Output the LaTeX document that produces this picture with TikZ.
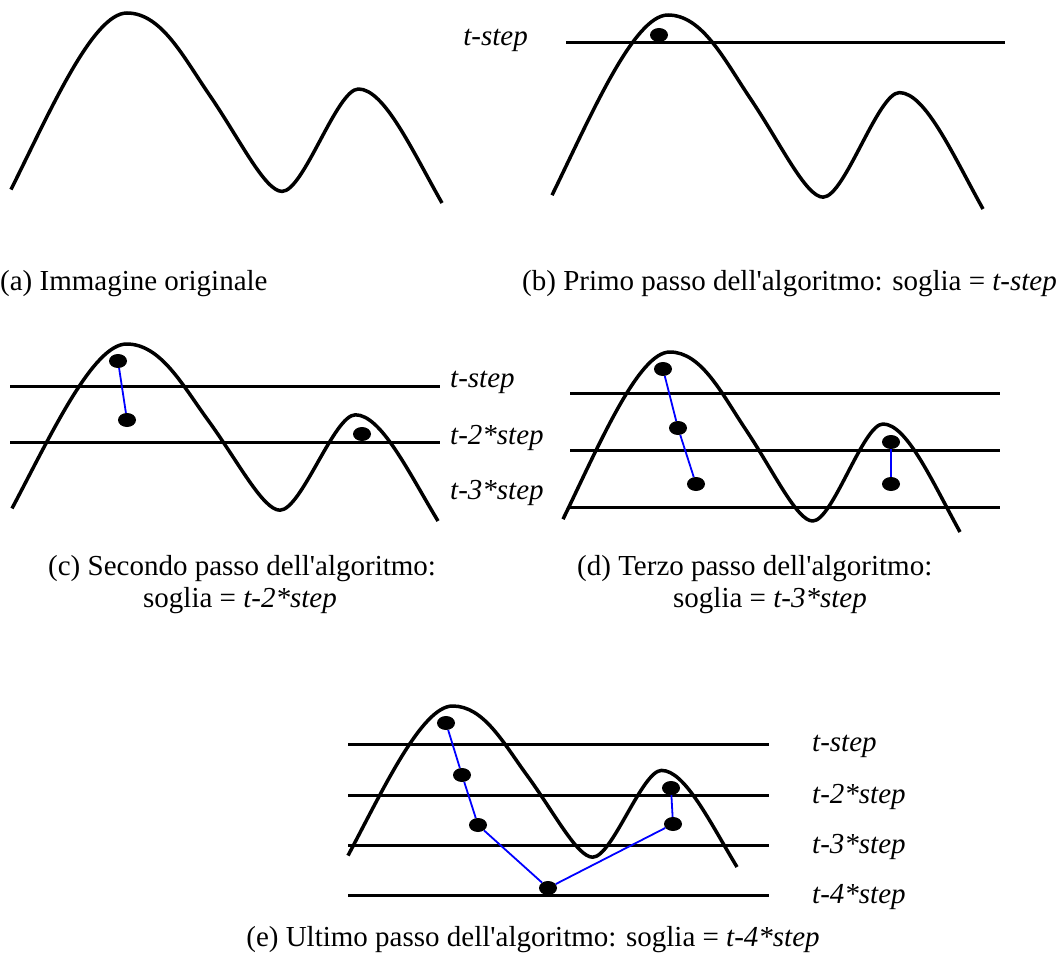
\documentclass[tikz,border=0pt]{standalone}
\usepackage{fontspec}
\setmainfont{Liberation Serif}
\usetikzlibrary{shapes.geometric}

% the profile, drawn in a unit box (peak at top, right end at bottom)
\newcommand{\wave}{%
    \draw[curve] (0,0.929) .. controls (0.09,0.52) and (0.19,0) .. (0.269,0)
        .. controls (0.349,0) and (0.40,0.232) .. (0.46,0.43)
        .. controls (0.53,0.661) and (0.589,0.939) .. (0.629,0.939)
        .. controls (0.679,0.939) and (0.756,0.4) .. (0.806,0.4)
        .. controls (0.866,0.4) and (0.93,0.72) .. (1,1);}

\begin{document}
\begin{tikzpicture}[x=1pt, y=-1pt,
            curve/.style={color=black, line width=3.5pt, line join=round},
            level/.style={color=black, line width=3pt},
            dot/.style={ellipse, fill=black, inner sep=0pt, minimum width=18pt, minimum height=14pt},
            trail/.style={color=blue, line width=1.8pt},
            steplabel/.style={inner sep=0pt, font=\fontsize{29}{34}\selectfont\itshape},
            caption/.style={inner sep=0pt, font=\fontsize{29}{34}\selectfont}
        ]
            \useasboundingbox (0,0) rectangle (1063,955);

            % (a) original image
            \begin{scope}[shift={(11,13)}, xscale=431, yscale=190]
                \wave
            \end{scope}
            \node[caption, anchor=west] (capa) at (0,284) {(a) Immagine originale};

            % (b) first step
            \begin{scope}[shift={(552,15)}, xscale=431, yscale=194]
                \wave
            \end{scope}
            \draw[level] (566,43) -- (1005,43);
            \node[steplabel, anchor=east] (lb1) at (528,40) {t-step};
            \node[dot] (b1) at (659,35) {};
            \node[caption, anchor=west] (capb) at (522,284) {(b) Primo passo dell\textquotesingle algoritmo: soglia = \textit{t-step}};

            % (c) second step
            \begin{scope}[shift={(12,344)}, xscale=426, yscale=177]
                \wave
            \end{scope}
            \foreach \y in {386, 442}{
                \draw[level] (10,\y) -- (440,\y);
            }
            \node[steplabel, anchor=west] (lc1) at (450,382) {t-step};
            \node[steplabel, anchor=west] (lc2) at (450,438) {t-2*step};
            \node[steplabel, anchor=west] (lc3) at (450,493) {t-3*step};
            \node[dot] (c1) at (118,361) {};
            \node[dot] (c2) at (127,420) {};
            \node[dot] (c3) at (362,434) {};
            \draw[trail] (c1) -- (c2);
            \node[caption, anchor=west] (capc1) at (48,569) {(c) Secondo passo dell\textquotesingle algoritmo:};
            \node[caption, anchor=west] (capc2) at (143,601) {soglia = \textit{t-2*step}};

            % (d) third step
            \begin{scope}[shift={(563,352)}, xscale=397, yscale=180]
                \wave
            \end{scope}
            \foreach \y in {393, 450, 507}{
                \draw[level] (570,\y) -- (1000,\y);
            }
            \node[dot] (d1) at (663,369) {};
            \node[dot] (d2) at (678,428) {};
            \node[dot] (d3) at (696,484) {};
            \node[dot] (d4) at (891,442) {};
            \node[dot] (d5) at (891,484) {};
            \draw[trail] (d1) -- (d2) -- (d3);
            \draw[trail] (d4) -- (d5);
            \node[caption, anchor=west] (capd1) at (577,569) {(d) Terzo passo dell\textquotesingle algoritmo:};
            \node[caption, anchor=west] (capd2) at (673,601) {soglia = \textit{t-3*step}};

            % (e) last step
            \begin{scope}[shift={(348,706)}, xscale=389, yscale=161]
                \wave
            \end{scope}
            \foreach \y/\lab [count=\i] in {744/t-step, 795/t-2*step, 845/t-3*step, 895/t-4*step}{
                \draw[level] (348,\y) -- (769,\y);
                \node[steplabel, anchor=west] (le\i) at (812,\y+2) {\lab};
            }
            \node[dot] (e1) at (446,723) {};
            \node[dot] (e2) at (462,775) {};
            \node[dot] (e3) at (478,825) {};
            \node[dot] (e4) at (548,888) {};
            \node[dot] (e5) at (673,824) {};
            \node[dot] (e6) at (671,788) {};
            \draw[trail] (e1) -- (e2) -- (e3) -- (e4) -- (e5) -- (e6);
            \node[caption] (cape) at (533,940) {(e) Ultimo passo dell\textquotesingle algoritmo: soglia = \textit{t-4*step}};

        \end{tikzpicture}
\end{document}
